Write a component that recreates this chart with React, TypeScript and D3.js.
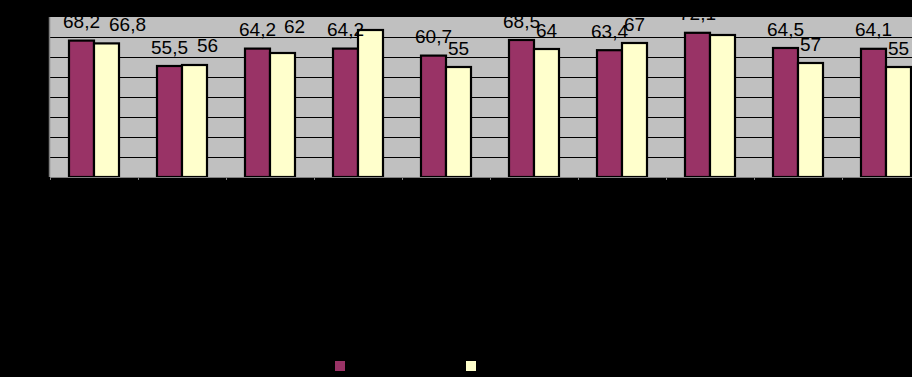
import React from "react";
import * as d3 from "d3";

const categories = ["1", "2", "3", "4", "5", "6", "7", "8", "9", "10"];
const series1 = [68.2, 55.5, 64.2, 64.2, 60.7, 68.5, 63.4, 72.1, 64.5, 64.1];
const series2 = [66.8, 56, 62, 73.5, 55, 64, 67, 71, 57, 55];
const yTicks = [0, 10, 20, 30, 40, 50, 60, 70, 80];

// layout nudges for the value labels of the second series (null = label not shown)
const label2Nudge: ([number, number] | null)[] = [
  [21, 0], [13, -1], [12, -8], null, [0, 0], [0, 0], [0, 0], null, [0, 0], [0, 0],
];

const W = 912;
const H = 377;
const plot = { left: 50, right: 930, top: 17, bottom: 177 };
const colors = ["#993366", "#FFFFCC"];

const fmt = (v: number) => String(v).replace(".", ",");

export default function App() {
  const x0 = d3
    .scaleBand<string>()
    .domain(categories)
    .range([plot.left, plot.right])
    .paddingInner(38 / 88)
    .paddingOuter(19 / 88);
  const x1 = d3.scaleBand<number>().domain([0, 1]).range([0, x0.bandwidth()]);
  const y = d3.scaleLinear().domain([0, 80]).range([plot.bottom, plot.top]);
  const step = x0.step();
  const series = [series1, series2];

  return (
    <svg
      width={W}
      height={H}
      style={{ position: "fixed", left: 0, top: 0, background: "#000", display: "block" }}
      fontFamily="'Liberation Sans', Arial, sans-serif"
    >
      <defs>
        <clipPath id="plotclip">
          <rect x={0} y={plot.top} width={W} height={H - plot.top} />
        </clipPath>
      </defs>
      <rect x={0} y={0} width={W} height={H} fill="#000" />
      <rect
        x={plot.left}
        y={plot.top}
        width={plot.right - plot.left}
        height={plot.bottom - plot.top}
        fill="#C0C0C0"
      />
      {yTicks
        .filter((t) => t > 0 && t < 80)
        .map((t) => (
          <line
            key={t}
            x1={plot.left}
            x2={plot.right}
            y1={Math.round(y(t)) + 0.5}
            y2={Math.round(y(t)) + 0.5}
            stroke="#000"
            strokeWidth={1.2}
          />
        ))}
      {categories.map((c, i) =>
        series.map((s, k) => {
          const bx = (x0(c) as number) + (x1(k) as number);
          const top = y(s[i]);
          return (
            <rect
              key={c + "-" + k}
              x={bx}
              y={top}
              width={x1.bandwidth()}
              height={plot.bottom - top}
              fill={colors[k]}
              stroke="#000"
              strokeWidth={2.2}
            />
          );
        })
      )}
      {/* axes */}
      <line x1={plot.left - 0.5} x2={plot.left - 0.5} y1={plot.top} y2={plot.bottom} stroke="#808080" strokeWidth={1.5} />
      <line x1={plot.left} x2={plot.right} y1={plot.bottom + 0.5} y2={plot.bottom + 0.5} stroke="#808080" strokeWidth={1.2} />
      {categories.map((c, i) => {
        const tx = Math.round(plot.left + i * step) + 0.5;
        return <line key={"t" + c} x1={tx} x2={tx} y1={plot.bottom} y2={plot.bottom + 3} stroke="#808080" />;
      })}
      {/* value labels */}
      <g clipPath="url(#plotclip)" fontSize={19} fill="#000" textAnchor="middle">
        {categories.map((c, i) => {
          const bx = (x0(c) as number) + (x1(0) as number) + x1.bandwidth() / 2;
          return (
            <text key={"l1" + c} x={bx} y={y(series1[i]) - 12.5}>
              {fmt(series1[i])}
            </text>
          );
        })}
        {categories.map((c, i) => {
          const n = label2Nudge[i];
          if (!n) return null;
          const bx = (x0(c) as number) + (x1(1) as number) + x1.bandwidth() / 2;
          return (
            <text key={"l2" + c} x={bx + n[0]} y={y(series2[i]) - 12.5 + n[1]}>
              {fmt(series2[i])}
            </text>
          );
        })}
      </g>
      {/* legend */}
      <rect x={335} y={361} width={10} height={10} fill={colors[0]} />
      <rect x={466} y={361} width={10} height={10} fill={colors[1]} />
    </svg>
  );
}
